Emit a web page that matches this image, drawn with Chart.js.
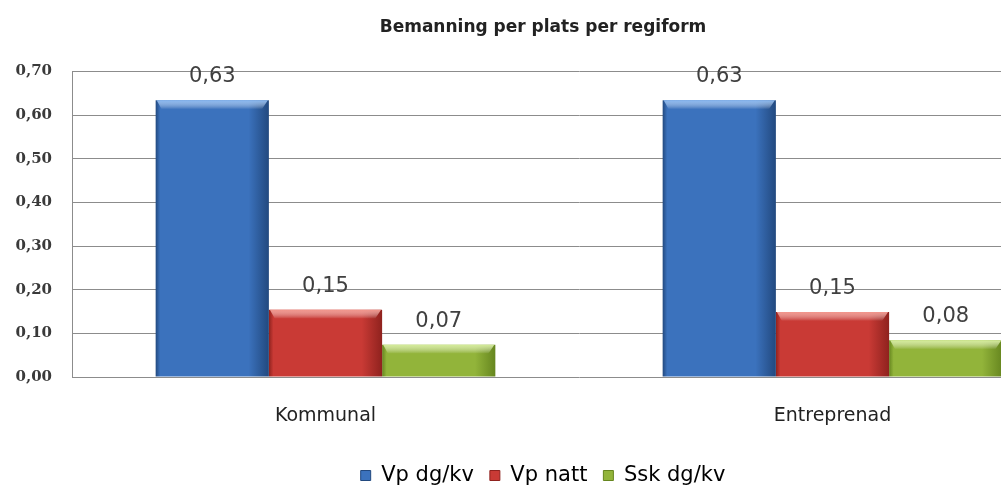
<!DOCTYPE html>
<html>
<head>
<meta charset="utf-8">
<script src="https://cdn.jsdelivr.net/npm/chart.js@4.4.1/dist/chart.umd.min.js"></script>
<style>
  html, body { margin: 0; padding: 0; background: #fff; overflow: hidden; }
  #wrap { width: 1100px; height: 496px; }
</style>
</head>
<body>
<div id="wrap"><canvas id="chart" width="1100" height="496"></canvas></div>
<script>
// Chart data
const categories = ['Kommunal', 'Entreprenad'];
const seriesNames = ['Vp dg/kv', 'Vp natt', 'Ssk dg/kv'];
const vpDagKv = [0.634, 0.634];
const vpNatt = [0.154, 0.149];
const sskDagKv = [0.074, 0.084];
const yMax = 0.7;
const yStep = 0.1;

// Excel-ish bar colours: base fill, dark edge, light top bevel
const palette = [
  { base: '#3b72bd', edge: '#22497f', top: '#86b6f0' },
  { base: '#c93a35', edge: '#8f221e', top: '#f2948a' },
  { base: '#92b43a', edge: '#66861f', top: '#d4ec98' }
];

const CAT_PCT = 0.67;
const BAR_PCT = 1.0;
const FONT = 'DejaVu Sans';

// horizontal shading across each bar, computed from the x scale
function barFill(ctx) {
  const p = palette[ctx.datasetIndex];
  if (ctx.type !== 'data') return p.base;
  const chart = ctx.chart;
  const xs = chart.scales.x;
  if (!chart.chartArea || !xs) return p.base;
  const n = chart.data.datasets.length;
  const catW = xs.width / chart.data.labels.length;
  const barW = catW * CAT_PCT * BAR_PCT / n;
  const cx = xs.getPixelForValue(ctx.dataIndex) + (ctx.datasetIndex - (n - 1) / 2) * barW;
  const g = chart.ctx.createLinearGradient(cx - barW / 2, 0, cx + barW / 2, 0);
  g.addColorStop(0, p.edge);
  g.addColorStop(0.04, p.base);
  g.addColorStop(0.82, p.base);
  g.addColorStop(1, p.edge);
  return g;
}

// top bevel + value labels
const barDecor = {
  id: 'barDecor',
  afterDatasetsDraw(chart) {
    const ctx = chart.ctx;
    chart.getSortedVisibleDatasetMetas().forEach(meta => {
      const p = palette[meta.index];
      meta.data.forEach((el, i) => {
        const w = el.width;
        const left = el.x - w / 2;
        const g = ctx.createLinearGradient(0, el.y, 0, el.y + 9);
        g.addColorStop(0, p.top);
        g.addColorStop(1, 'rgba(255,255,255,0)');
        ctx.save();
        ctx.fillStyle = g;
        ctx.beginPath();
        ctx.moveTo(left + 1, el.y);
        ctx.lineTo(left + w - 1, el.y);
        ctx.lineTo(left + w - 7, el.y + 9);
        ctx.lineTo(left + 6, el.y + 9);
        ctx.closePath();
        ctx.fill();

        const v = chart.data.datasets[meta.index].data[i];
        ctx.fillStyle = '#404040';
        ctx.font = '21px "' + FONT + '"';
        ctx.textAlign = 'center';
        ctx.textBaseline = 'bottom';
        ctx.fillText(v.toFixed(2).replace('.', ','), el.x, el.y - 13);
        ctx.restore();
      });
    });
  }
};

new Chart(document.getElementById('chart'), {
  type: 'bar',
  data: {
    labels: categories,
    datasets: [
      { label: seriesNames[0], data: vpDagKv, backgroundColor: barFill },
      { label: seriesNames[1], data: vpNatt, backgroundColor: barFill },
      { label: seriesNames[2], data: sskDagKv, backgroundColor: barFill }
    ]
  },
  options: {
    responsive: false,
    animation: false,
    categoryPercentage: CAT_PCT,
    barPercentage: BAR_PCT,
    layout: { padding: { left: 0, right: 14, top: 0, bottom: 0 } },
    plugins: {
      title: {
        display: true,
        text: 'Bemanning per plats per regiform',
        color: '#222',
        font: { family: FONT, size: 17, weight: 'bold' },
        padding: { top: 17, bottom: 34 }
      },
      legend: {
        position: 'bottom',
        labels: {
          color: '#222',
          font: { family: FONT, size: 21 },
          boxWidth: 10,
          boxHeight: 10,
          padding: 16,
          generateLabels(chart) {
            return chart.data.datasets.map((ds, i) => ({
              text: ds.label,
              fillStyle: palette[i].base,
              strokeStyle: palette[i].edge,
              lineWidth: 1,
              datasetIndex: i
            }));
          }
        }
      },
      tooltip: { enabled: false }
    },
    scales: {
      x: {
        grid: { display: false, drawTicks: false },
        border: { display: false },
        ticks: { padding: 28, color: '#222', font: { family: FONT, size: 19 } },
        afterFit(s) { s.height = 72; }
      },
      y: {
        min: 0,
        max: yMax,
        ticks: {
          stepSize: yStep,
          padding: 20,
          color: '#3a3a3a',
          font: { family: 'DejaVu Serif', size: 15, weight: 'bold' },
          callback: v => v.toFixed(2).replace('.', ',')
        },
        grid: { color: '#8c8c8c', drawTicks: false },
        border: { display: true, color: '#8c8c8c' },
        afterFit(s) { s.width = 72; }
      }
    }
  },
  plugins: [barDecor]
});
</script>
</body>
</html>
